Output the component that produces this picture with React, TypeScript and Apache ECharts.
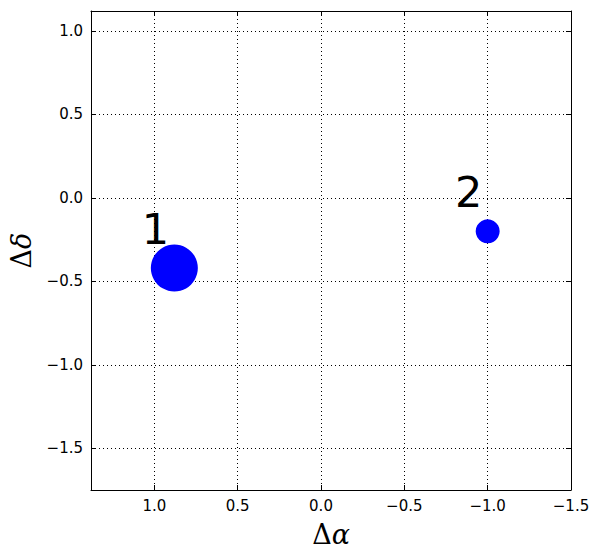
import React, { useEffect, useRef } from "react";
import * as echarts from "echarts";

const pointLabels = ["1", "2"];
const dAlpha = [0.88, -1.0];
const dDelta = [-0.42, -0.2];
const markerSizes = [47, 24];
const xTicks = [1.0, 0.5, 0.0, -0.5, -1.0, -1.5];
const yTicks = [1.0, 0.5, 0.0, -0.5, -1.0, -1.5];

const fmt = (v: number) => {
  const s = Math.abs(v).toFixed(1);
  return v < -1e-9 ? "\u2212" + s : s;
};

export default function App() {
  const ref = useRef<HTMLDivElement>(null);
  useEffect(() => {
    if (!ref.current) return;
    const chart = echarts.init(ref.current, null, { renderer: "svg" });
    const tickFont = { fontFamily: "DejaVu Sans", fontSize: 15, color: "#000" };
    const line = { show: true, onZero: false, lineStyle: { color: "#000", width: 1 } };
    const split = { show: true, lineStyle: { color: "#000", type: [1, 3] as any, width: 1 } };
    const nameRich = {
      rich: {
        d: { fontFamily: "DejaVu Serif", fontSize: 27, color: "#000" },
        a: { fontFamily: "DejaVu Serif", fontStyle: "italic", fontSize: 27, color: "#000" },
      },
    };
    const mkX = (pos: "bottom" | "top", main: boolean) => ({
      type: "value" as const,
      position: pos,
      inverse: true,
      min: -1.5,
      max: 1.38,
      axisLine: line,
      axisTick: { show: true, inside: true, length: 5, customValues: xTicks, lineStyle: { color: "#000" } },
      axisLabel: main
        ? { show: true, customValues: xTicks, formatter: fmt, margin: 8, ...tickFont }
        : { show: false },
      splitLine: main ? split : { show: false },
      name: main ? "{d|\u0394}{a|\u03b1}" : "",
      nameLocation: "middle" as const,
      nameGap: 31,
      nameTextStyle: nameRich,
    });
    const mkY = (pos: "left" | "right", main: boolean) => ({
      type: "value" as const,
      position: pos,
      min: -1.75,
      max: 1.12,
      axisLine: line,
      axisTick: { show: true, inside: true, length: 5, customValues: yTicks, lineStyle: { color: "#000" } },
      axisLabel: main
        ? { show: true, customValues: yTicks, formatter: fmt, margin: 8, ...tickFont }
        : { show: false },
      splitLine: main ? split : { show: false },
      name: main ? "{d|\u0394}{a|\u03b4}" : "",
      nameLocation: "middle" as const,
      nameGap: 56,
      nameTextStyle: nameRich,
    });
    chart.setOption({
      animation: false,
      backgroundColor: "#fff",
      grid: { left: 91, top: 11, width: 480, height: 479, containLabel: false },
      xAxis: [mkX("bottom", true), mkX("top", false)],
      yAxis: [mkY("left", true), mkY("right", false)],
      series: [
        {
          type: "scatter",
          xAxisIndex: 0,
          yAxisIndex: 0,
          data: dAlpha.map((x, i) => ({
            name: pointLabels[i],
            value: [x, dDelta[i]],
            symbolSize: markerSizes[i],
          })),
          itemStyle: { color: "#0000ff", opacity: 1 },
          label: {
            show: true,
            position: "inside",
            offset: [-19, -39],
            formatter: (p: any) => p.name,
            fontFamily: "DejaVu Sans",
            fontSize: 43,
            color: "#000",
          },
          z: 5,
        },
      ],
    });
    return () => chart.dispose();
  }, []);
  return (
    <div
      ref={ref}
      style={{ position: "fixed", left: 0, top: 0, width: 600, height: 558, background: "#fff" }}
    />
  );
}
